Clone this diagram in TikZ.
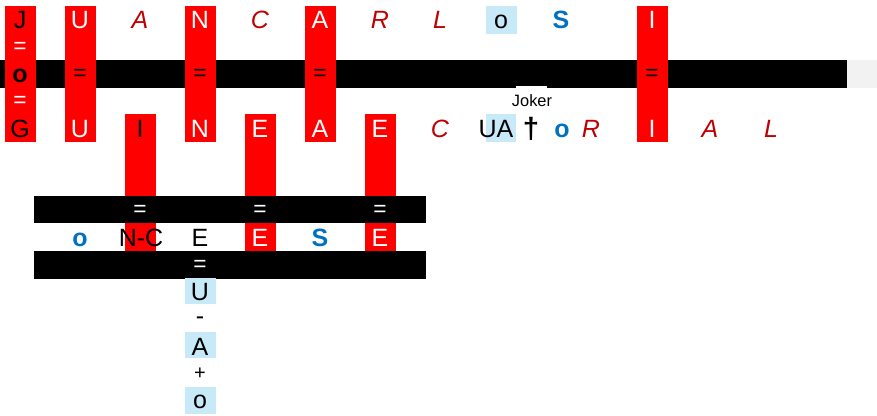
\documentclass[tikz,border=0pt]{standalone}
\usepackage{fontspec}
\setmainfont{Liberation Sans}
\definecolor{tilered}{RGB}{255,0,0}
\definecolor{letterred}{RGB}{192,0,0}
\definecolor{letterblue}{RGB}{0,112,192}
\definecolor{jokerbox}{RGB}{200,233,248}
\definecolor{barend}{RGB}{242,242,242}
\newcommand{\bigfont}{\fontsize{18.75}{22}\selectfont}

\begin{document}
\begin{tikzpicture}[x=0.75pt,y=-0.75pt,
  every node/.style={inner sep=0pt,font=\bigfont},
  tile/.style={anchor=base},
  wt/.style={tile,text=white},
  bk/.style={tile,text=black},
  it/.style={tile,text=letterred,font=\bigfont\itshape},
  bl/.style={tile,text=letterblue,font=\bigfont\bfseries},
  eq/.style={anchor=center,font=\fontsize{17}{20}\selectfont}]
\useasboundingbox (0,0) rectangle (877,416);
% bars
\fill[black] (0,60) rectangle (847,88);
\fill[barend] (847,60) rectangle (877,88);
% red columns over the long bar
\fill[tilered] (4.5,6) rectangle (35.5,142);
\fill[tilered] (64.5,6) rectangle (95.5,142);
\fill[tilered] (184.5,6) rectangle (215.5,142);
\fill[tilered] (304.5,6) rectangle (335.5,142);
\fill[tilered] (636.5,6) rectangle (667.5,142);
% red columns down to the short bars
\fill[tilered] (124.5,114) rectangle (155.5,251);
\fill[tilered] (244.5,114) rectangle (275.5,251);
\fill[tilered] (364.5,114) rectangle (395.5,251);
\fill[black] (34,196) rectangle (426,223);
\fill[black] (34,251) rectangle (426,279);
% light boxes
\fill[jokerbox] (486,6) rectangle (517,34);
\fill[jokerbox] (486,114) rectangle (516,142);
\fill[jokerbox] (185,278) rectangle (216,304);
\fill[jokerbox] (185,332) rectangle (216,358);
\fill[jokerbox] (185,387) rectangle (216,414);
\fill[white] (516,86.5) rectangle (547,115);

% top word
\node[bk] (j1) at (20,29) {J};
\node[wt] (u1) at (80,29) {U};
\node[it] (a1) at (140,29) {A};
\node[wt] (n1) at (200,29) {N};
\node[it] (c1) at (260,29) {C};
\node[wt] (a2) at (320,29) {A};
\node[it] (r1) at (380,29) {R};
\node[it] (l1) at (440,29) {L};
\node[bk] (o1) at (501,29) {o};
\node[bl] (s1) at (561,29) {S};
\node[wt] (i1) at (652,29) {I};

% crossings on the long bar
\node[eq,text=white] (eqj1) at (20,48) {=};
\node[bk,font=\bigfont\bfseries] (oj) at (20,83) {o};
\node[eq,text=white] (eqj2) at (20,102) {=};
\node[eq] (equ) at (80,75) {=};
\node[eq] (eqn) at (200,75) {=};
\node[eq] (eqa) at (320,75) {=};
\node[eq] (eqi) at (652,75) {=};

% bottom word
\node[bk] (g2) at (20,138) {G};
\node[wt] (u2) at (80,138) {U};
\node[bk] (i2) at (140,138) {I};
\node[wt] (n2) at (200,138) {N};
\node[wt] (e2) at (260,138) {E};
\node[wt] (a3) at (320,138) {A};
\node[wt] (e3) at (380,138) {E};
\node[it] (c2) at (440,138) {C};
\node[bk] (ua) at (496,138) {UA};
\node[eq,font=\fontsize{22}{26}\selectfont\bfseries] (dagger) at (531,129) {†};
\node[bl] (o2) at (562,138) {o};
\node[it] (r2) at (591,138) {R};
\node[wt] (i3) at (652,138) {I};
\node[it] (a4) at (710,138) {A};
\node[it] (l2) at (771,138) {L};
\node[anchor=base,font=\fontsize{12.3}{14}\selectfont] (joker) at (532,106.5) {Joker};

% short bars
\node[eq,text=white] (eqs1) at (140,211) {=};
\node[eq,text=white] (eqs2) at (260,211) {=};
\node[eq,text=white] (eqs3) at (380,211) {=};
\node[bl] (o3) at (80,246.5) {o};
\node[bk] (nc) at (141,246.5) {N-C};
\node[bk] (e4) at (200,246.5) {E};
\node[wt] (e5) at (260,246.5) {E};
\node[bl] (s2) at (320,246.5) {S};
\node[wt] (e6) at (380,246.5) {E};
\node[eq,text=white] (eqs4) at (200,266) {=};

% column under E
\node[bk] (u3) at (200,300.5) {U};
\node[eq,font=\bigfont] (minus) at (200,321) {-};
\node[bk] (a5) at (200,355) {A};
\node[eq,font=\fontsize{15}{18}\selectfont] (plus) at (200,374) {+};
\node[bk] (o4) at (200,408.5) {o};
\end{tikzpicture}
\end{document}
